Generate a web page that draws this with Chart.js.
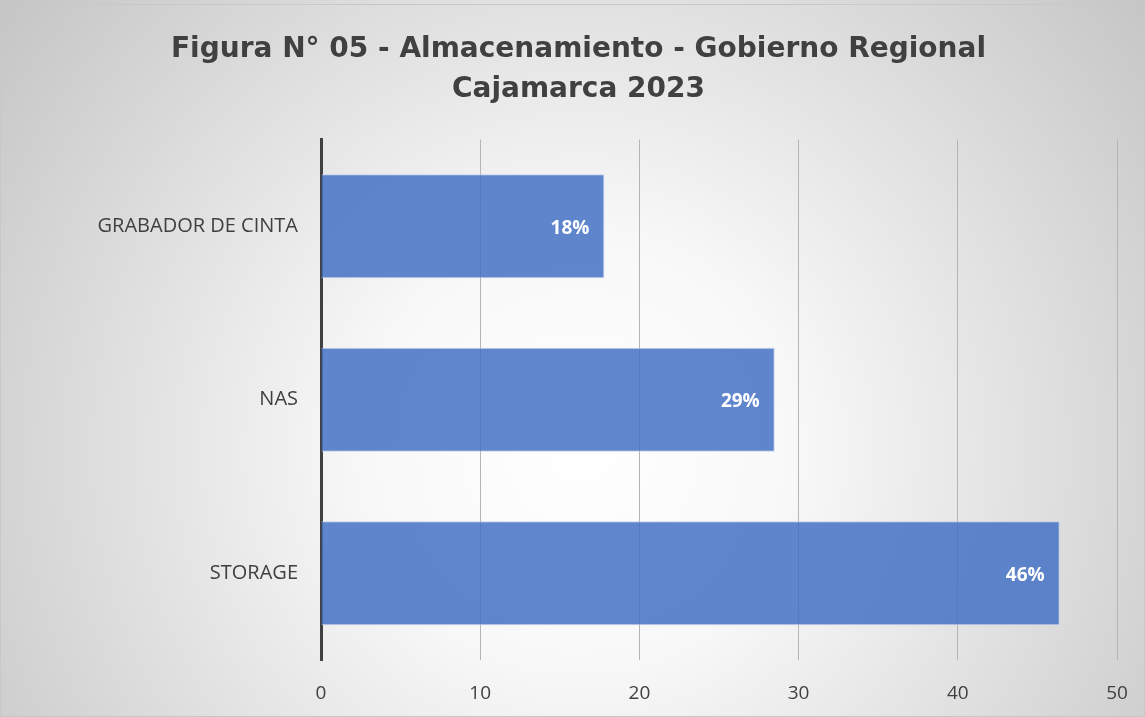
<!DOCTYPE html>
<html>
<head>
<meta charset="utf-8">
<script src="https://cdn.jsdelivr.net/npm/chart.js@4.4.0/dist/chart.umd.min.js"></script>
<style>
    html, body { margin: 0; padding: 0; background: #fff; }
    #wrap { width: 1145px; height: 717px; position: relative; }
</style>
</head>
<body>
<div id="wrap"><canvas id="almacenamientoChart"></canvas></div>
<script>
// Data
const categories = ['GRABADOR DE CINTA', 'NAS', 'STORAGE'];
const values = [17.8, 28.5, 46.4];
const percentLabels = ['18%', '29%', '46%'];
const titleLines = ['Figura N° 05 - Almacenamiento - Gobierno Regional', 'Cajamarca 2023'];

// Radial grey background
const backgroundPlugin = {
    id: 'radialBackground',
    beforeDraw(chart) {
        const { ctx, width, height } = chart;
        const g = ctx.createRadialGradient(580, 450, 0, 580, 450, 720);
        g.addColorStop(0, '#ffffff');
        g.addColorStop(0.3, '#f8f8f8');
        g.addColorStop(1, '#c6c6c6');
        ctx.save();
        ctx.fillStyle = g;
        ctx.fillRect(0, 0, width, height);
        ctx.strokeStyle = '#c8c8c8';
        ctx.lineWidth = 1;
        ctx.strokeRect(0.5, 4.5, width - 1, height - 5);
        ctx.restore();
    }
};

// Percent labels inside bar ends
const barLabelPlugin = {
    id: 'barLabels',
    afterDatasetsDraw(chart) {
        const { ctx } = chart;
        const meta = chart.getDatasetMeta(0);
        ctx.save();
        ctx.font = 'bold 19px "Open Sans", sans-serif';
        ctx.fillStyle = '#ffffff';
        ctx.textAlign = 'right';
        ctx.textBaseline = 'middle';
        meta.data.forEach((bar, i) => {
            ctx.fillText(percentLabels[i], bar.x - 15, bar.y + 2);
        });
        ctx.restore();
    }
};

new Chart(document.getElementById('almacenamientoChart'), {
    type: 'bar',
    data: {
        labels: categories,
        datasets: [{
            data: values,
            backgroundColor: 'rgba(68, 114, 196, 0.85)',
            borderColor: 'rgba(190, 205, 235, 0.9)',
            borderWidth: 1,
            barPercentage: 0.6,
            categoryPercentage: 1.0
        }]
    },
    options: {
        indexAxis: 'y',
        responsive: true,
        maintainAspectRatio: false,
        animation: false,
        layout: {
            padding: { left: 40, right: 28, top: 16, bottom: 0 }
        },
        plugins: {
            legend: { display: false },
            tooltip: { enabled: false },
            title: {
                display: true,
                text: titleLines,
                color: '#404040',
                font: { family: '"DejaVu Sans", sans-serif', size: 28, weight: 'bold', lineHeight: 1.42 },
                padding: { top: 14, bottom: 30 }
            }
        },
        scales: {
            x: {
                min: 0,
                max: 50,
                afterFit(scale) {
                    scale.height = 57;
                    scale.paddingLeft = 0;
                    scale.paddingRight = 0;
                },
                ticks: {
                    stepSize: 10,
                    color: '#404040',
                    padding: 22,
                    font: { family: '"Open Sans", sans-serif', size: 19 }
                },
                grid: {
                    color: '#b4b4b4',
                    lineWidth: 1,
                    drawTicks: false
                },
                border: { display: false }
            },
            y: {
                afterFit(scale) {
                    scale.width = 281;
                },
                ticks: {
                    color: '#404040',
                    padding: 15,
                    font: { family: '"Open Sans", sans-serif', size: 20 }
                },
                grid: { display: false },
                border: { color: '#404040', width: 3 }
            }
        }
    },
    plugins: [backgroundPlugin, barLabelPlugin]
});
</script>
</body>
</html>
